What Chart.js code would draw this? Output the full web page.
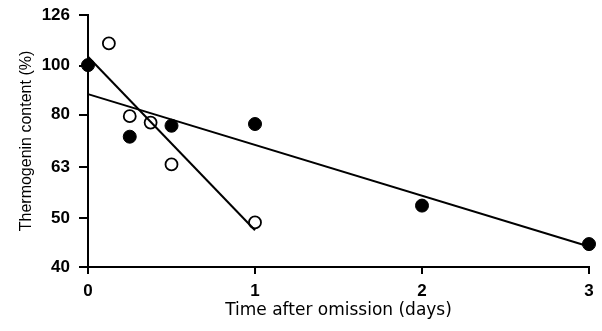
<!DOCTYPE html>
<html>
<head>
<meta charset="utf-8">
<script src="https://cdn.jsdelivr.net/npm/chart.js@4/dist/chart.umd.min.js"></script>
<style>
  html, body { margin: 0; padding: 0; background: #fff; }
  #wrap { width: 602px; height: 331px; }
</style>
</head>
<body>
<div id="wrap"><canvas id="grafico"></canvas></div>
<script>
// valores
const yTicks = [40, 50, 63, 80, 100, 126];
const xTicks = [0, 1, 2, 3];

// círculos abertos
const abertoX = [0.125, 0.25, 0.375, 0.5, 1];
const abertoY = [110.7, 79.5, 77.2, 63.8, 49.0];

// círculos preenchidos
const cheioX = [0, 0.25, 0.5, 1, 2, 3];
const cheioY = [100.3, 72.4, 76.1, 76.7, 52.9, 44.4];

// retas de regressão (extremos)
const retaIngremeX = [0, 1];
const retaIngremeY = [104.2, 47.3];
const retaSuaveX = [0, 3];
const retaSuaveY = [87.9, 43.9];

const pares = (xs, ys) => xs.map((x, i) => ({ x: x, y: ys[i] }));

const fonteTick = { family: 'Liberation Sans, Arial, sans-serif', size: 17, weight: 'bold' };
const fonteTituloX = { family: 'DejaVu Sans, sans-serif', size: 17 };
const fonteTituloY = { family: 'Liberation Sans, Arial, sans-serif', size: 16 };

new Chart(document.getElementById('grafico'), {
    type: 'scatter',
    data: {
        datasets: [
            {
                data: pares(retaIngremeX, retaIngremeY),
                showLine: true,
                borderColor: '#000',
                borderWidth: 2,
                pointRadius: 0,
                clip: false
            },
            {
                data: pares(retaSuaveX, retaSuaveY),
                showLine: true,
                borderColor: '#000',
                borderWidth: 2,
                pointRadius: 0,
                clip: false
            },
            {
                data: pares(abertoX, abertoY),
                pointRadius: 6,
                pointBackgroundColor: '#fff',
                pointBorderColor: '#000',
                pointBorderWidth: 1.8,
                clip: false
            },
            {
                data: pares(cheioX, cheioY),
                pointRadius: 6.5,
                pointBackgroundColor: '#000',
                pointBorderColor: '#000',
                pointBorderWidth: 1,
                clip: false
            }
        ]
    },
    options: {
        responsive: true,
        maintainAspectRatio: false,
        animation: false,
        layout: { padding: { top: 15, right: 13, left: 0, bottom: 0 } },
        plugins: {
            legend: { display: false },
            tooltip: { enabled: false }
        },
        scales: {
            x: {
                type: 'linear',
                min: 0,
                max: 3,
                afterBuildTicks: (scale) => { scale.ticks = xTicks.map(v => ({ value: v })); },
                afterFit: (scale) => { scale.height = 64; scale.paddingLeft = 0; scale.paddingRight = 0; },
                grid: {
                    drawOnChartArea: false,
                    drawTicks: true,
                    tickLength: 7,
                    color: '#000',
                    lineWidth: 2
                },
                border: { display: true, color: '#000', width: 2 },
                ticks: { color: '#000', font: fonteTick, padding: 7 },
                title: {
                    display: true,
                    text: 'Time after omission (days)',
                    color: '#000',
                    font: fonteTituloX,
                    padding: { top: 0, bottom: 10 }
                }
            },
            y: {
                type: 'logarithmic',
                min: 40,
                max: 126,
                afterBuildTicks: (scale) => { scale.ticks = yTicks.map(v => ({ value: v })); },
                afterFit: (scale) => { scale.width = 88; scale.paddingTop = 0; scale.paddingBottom = 0; },
                grid: {
                    drawOnChartArea: false,
                    drawTicks: true,
                    tickLength: 9,
                    color: '#000',
                    lineWidth: 2
                },
                border: { display: true, color: '#000', width: 2 },
                ticks: {
                    color: '#000',
                    font: fonteTick,
                    padding: 9,
                    callback: (v) => String(v)
                },
                title: {
                    display: true,
                    text: 'Thermogenin content (%)',
                    color: '#000',
                    font: fonteTituloY,
                    padding: { top: 17, bottom: 0 }
                }
            }
        }
    }
});
</script>
</body>
</html>
